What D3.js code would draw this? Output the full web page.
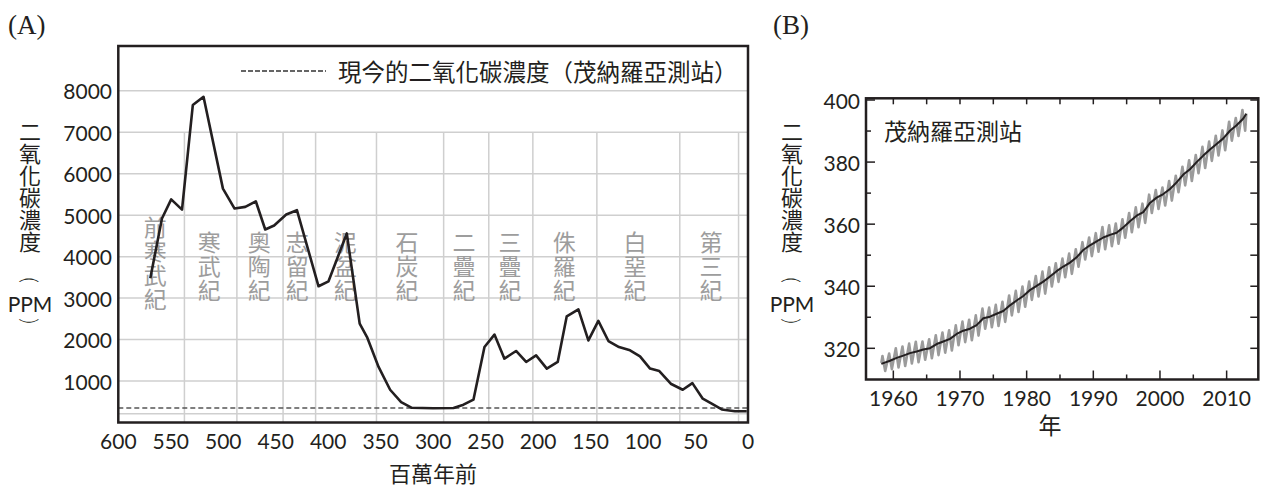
<!DOCTYPE html>
<html>
<head>
<meta charset="utf-8">
<script src="https://cdn.jsdelivr.net/npm/d3@7.9.0/dist/d3.min.js"></script>
<style>
  body { margin: 0; background: #fff; }
  text { font-family: Lato, "Noto Sans CJK TC", sans-serif; fill: #231f20; }
  .cjk { font-family: "Noto Sans CJK TC", sans-serif; }
  .vert { font-family: "Noto Sans CJK TC", sans-serif; writing-mode: vertical-rl; }
</style>
</head>
<body>
<svg id="chart" width="1265" height="488"></svg>
<script>
// ---- panel A data: CO2 over the last 600 million years ----
const agesA = [569.5, 558.4, 549.6, 539.3, 529, 518.8, 500.3, 489.2, 479, 469, 460, 451.5, 440, 429.8,
  409.2, 399.7, 382.3, 370, 363, 352, 341, 330.5, 320.3, 300, 280.6, 271.1, 261.6, 251.1, 241.6,
  232.1, 221, 211.4, 201.9, 191.7, 181.3, 172.7, 161.6, 152.1, 142.6, 133, 122.9, 112.4, 102.9,
  93.3, 84.5, 73.6, 62.2, 53, 43.1, 34.6, 25, 12.4, 1.2];
const co2A = [3480, 4920, 5380, 5135, 7655, 7855, 5640, 5160, 5200, 5335, 4655, 4750, 5015, 5120,
  3285, 3405, 4560, 2385, 2060, 1340, 790, 490, 355, 345, 350, 430, 550, 1820, 2120,
  1540, 1725, 1460, 1620, 1300, 1460, 2560, 2730, 1980, 2450, 1965, 1820, 1740, 1595,
  1300, 1240, 935, 790, 950, 575, 455, 315, 270, 270];
const todayCO2 = 350;
const extraGrid = 210;

const periodBounds = [537, 487, 443, 412, 354, 290, 247, 205, 144, 65, 9];
const periodNames = ['前寒武紀', '寒武紀', '奧陶紀', '志留紀', '泥盆紀', '石炭紀', '二疊紀', '三疊紀', '侏羅紀', '白堊紀', '第三紀'];
const periodMid = [564.8, 513.3, 465.7, 429.5, 383.8, 324.8, 270.5, 226.7, 175.2, 107.6, 35.2];

const xTicksA = [600, 550, 500, 450, 400, 350, 300, 250, 200, 150, 100, 50, 0];
const yTicksA = [1000, 2000, 3000, 4000, 5000, 6000, 7000, 8000];

// ---- panel B data: Mauna Loa record ----
const yearsB = d3.range(1958, 2013);
const meanB = [315.3, 315.98, 316.91, 317.64, 318.45, 318.99, 319.62, 320.04, 321.37, 322.18,
  323.05, 324.62, 325.68, 326.32, 327.46, 329.68, 330.19, 331.13, 332.03, 333.84,
  335.41, 336.84, 338.76, 340.12, 341.48, 343.15, 344.85, 346.35, 347.61, 349.31,
  351.69, 353.20, 354.45, 355.70, 356.54, 357.21, 358.96, 360.97, 362.74, 363.88,
  366.84, 368.54, 369.71, 371.32, 373.45, 375.98, 377.70, 379.98, 382.09, 384.02,
  385.83, 387.64, 390.10, 391.85, 394.06];
const peakB = [317.5, 318.3, 320.0, 320.6, 321.5, 322.1, 322.2, 322.9, 324.2, 325.1,
  325.8, 327.4, 328.6, 329.2, 330.6, 332.8, 333.1, 334.0, 335.0, 337.0,
  338.5, 339.9, 341.5, 343.3, 344.7, 346.1, 347.4, 348.9, 350.5, 351.9,
  354.2, 355.7, 357.1, 359.1, 359.6, 360.2, 361.6, 363.6, 365.4, 366.6,
  369.5, 371.0, 371.8, 373.9, 375.6, 378.5, 380.6, 382.3, 384.9, 386.6,
  388.5, 390.2, 393.0, 394.2, 396.8];
const troughB = [312.7, 313.3, 313.8, 314.3, 315.1, 315.5, 316.3, 316.8, 317.8, 318.6,
  319.3, 321.0, 322.0, 322.6, 324.1, 326.3, 326.8, 327.2, 328.5, 330.6,
  331.7, 333.4, 335.6, 336.7, 337.6, 339.9, 341.4, 342.9, 344.0, 346.3,
  348.6, 349.7, 351.1, 351.9, 352.9, 353.7, 355.6, 357.4, 359.0, 360.4,
  363.6, 364.9, 366.0, 367.6, 370.3, 372.5, 373.9, 376.4, 378.1, 380.4,
  382.1, 383.8, 386.9, 388.4, 390.1];
const startB = { t: 1958.2, v: 315.3 };
const endB = { t: 2012.95, v: 395.6 };

const xTicksB = [1960, 1970, 1980, 1990, 2000, 2010];
const xMinorB = [1965, 1975, 1985, 1995, 2005];
const yTicksB = [320, 340, 360, 380, 400];
const yMinorB = [330, 350, 370, 390];

const svg = d3.select('#chart');
svg.append('rect').attr('width', 1265).attr('height', 488).attr('fill', '#fff');

// vertical axis title: CJK column, then (PPM) with turned brackets
function yTitle(cx) {
  const g = svg.append('g');
  g.append('text').attr('class', 'vert').attr('x', cx).attr('y', 121)
    .attr('font-size', 22).text('二氧化碳濃度');
  g.append('text').attr('transform', `translate(${cx},280) rotate(90)`)
    .attr('text-anchor', 'middle').attr('dominant-baseline', 'central')
    .attr('font-size', 22).attr('font-weight', 300).text('(');
  g.append('text').attr('x', cx).attr('y', 303).attr('text-anchor', 'middle')
    .attr('dominant-baseline', 'central').attr('font-size', 21).text('PPM');
  g.append('text').attr('transform', `translate(${cx},321) rotate(90)`)
    .attr('text-anchor', 'middle').attr('dominant-baseline', 'central')
    .attr('font-size', 22).attr('font-weight', 300).text(')');
}

// ================= panel A =================
const xA = d3.scaleLinear().domain([600, 0]).range([118.3, 748]);
const yA = d3.scaleLinear().domain([0, 9080]).range([422.5, 46]);

svg.append('text').attr('x', 8).attr('y', 34)
  .style('font-family', '"Liberation Serif", serif').attr('font-size', 27).text('(A)');

const gridA = svg.append('g').attr('stroke', '#cfcfcf').attr('stroke-width', 1.5);
gridA.selectAll('.h').data(yTicksA.concat([extraGrid])).join('line')
  .attr('x1', xA(600)).attr('x2', xA(0)).attr('y1', d => yA(d)).attr('y2', d => yA(d));
gridA.selectAll('.v').data(periodBounds).join('line')
  .attr('x1', d => xA(d)).attr('x2', d => xA(d)).attr('y1', yA(7000)).attr('y2', yA(0));

// geological period names, written top to bottom
svg.selectAll('.period').data(periodNames).join('text')
  .attr('class', 'vert').attr('x', (d, i) => xA(periodMid[i]))
  .attr('y', d => d.length === 4 ? 216 : 230.5)
  .attr('font-size', 23).attr('letter-spacing', 1)
  .style('fill', '#9d9d9d').text(d => d);

svg.append('line').attr('x1', xA(600)).attr('x2', xA(0))
  .attr('y1', yA(todayCO2)).attr('y2', yA(todayCO2))
  .attr('stroke', '#555').attr('stroke-width', 1.5).attr('stroke-dasharray', '5,3');

const lineA = d3.line().x((d, i) => xA(agesA[i])).y(d => yA(d));
svg.append('path').attr('d', lineA(co2A)).attr('fill', 'none')
  .attr('stroke', '#231f20').attr('stroke-width', 2.6).attr('stroke-linejoin', 'round');

svg.append('rect').attr('x', xA(600)).attr('y', yA(9080))
  .attr('width', xA(0) - xA(600)).attr('height', yA(0) - yA(9080))
  .attr('fill', 'none').attr('stroke', '#231f20').attr('stroke-width', 2.5);

svg.selectAll('.xa').data(xTicksA).join('text')
  .attr('x', d => xA(d)).attr('y', 440).attr('text-anchor', 'middle')
  .attr('dominant-baseline', 'central').attr('font-size', 21).text(d => d);
svg.selectAll('.ya').data(yTicksA).join('text')
  .attr('x', 112).attr('y', d => yA(d)).attr('text-anchor', 'end')
  .attr('dominant-baseline', 'central').attr('font-size', 21).text(d => d);

svg.append('text').attr('class', 'cjk').attr('x', 433).attr('y', 472)
  .attr('text-anchor', 'middle').attr('dominant-baseline', 'central')
  .attr('font-size', 22).text('百萬年前');

yTitle(30);

// legend
svg.append('line').attr('x1', 241).attr('x2', 326).attr('y1', 71).attr('y2', 71)
  .attr('stroke', '#333').attr('stroke-width', 1.3).attr('stroke-dasharray', '5,2');
svg.append('text').attr('class', 'cjk').attr('x', 338).attr('y', 71)
  .attr('dominant-baseline', 'central').attr('font-size', 23.5)
  .text('現今的二氧化碳濃度（茂納羅亞測站）');

// ================= panel B =================
const xB = d3.scaleLinear().domain([1955.9, 2014.75]).range([866, 1258.3]);
const yB = d3.scaleLinear().domain([309.95, 400.55]).range([379.5, 98.3]);

svg.append('text').attr('x', 773).attr('y', 34)
  .style('font-family', '"Liberation Serif", serif').attr('font-size', 27).text('(B)');

// seasonal cycle (grey): May peak and autumn trough of each year
const seasonal = [startB];
yearsB.forEach((yr, i) => {
  seasonal.push({ t: yr + 0.37, v: peakB[i] });
  seasonal.push({ t: yr + 0.78, v: troughB[i] });
});
seasonal.push(endB);
const lineB = d3.line().x(d => xB(d.t)).y(d => yB(d.v));
svg.append('path').attr('d', lineB(seasonal)).attr('fill', 'none')
  .attr('stroke', '#9b9b9b').attr('stroke-width', 2.6).attr('stroke-linejoin', 'round');

// annual mean trend (black)
const trend = [{ t: startB.t, v: 315.0 }]
  .concat(yearsB.slice(1).map((yr, i) => ({ t: yr + 0.5, v: meanB[i + 1] })))
  .concat([endB]);
svg.append('path').attr('d', lineB(trend)).attr('fill', 'none')
  .attr('stroke', '#231f20').attr('stroke-width', 2).attr('stroke-linejoin', 'round');

// frame
svg.append('rect').attr('x', xB(1955.9)).attr('y', yB(400.55))
  .attr('width', xB(2014.75) - xB(1955.9)).attr('height', yB(309.95) - yB(400.55))
  .attr('fill', 'none').attr('stroke', '#231f20').attr('stroke-width', 2.5);

const tickB = svg.append('g').attr('stroke', '#231f20').attr('stroke-width', 1.5);
const bot = yB(309.95), topY = yB(400.55), lft = xB(1955.9), rgt = xB(2014.75);
tickB.selectAll('.bx').data(xTicksB).join('line')
  .attr('x1', d => xB(d)).attr('x2', d => xB(d)).attr('y1', bot).attr('y2', bot - 9);
tickB.selectAll('.bxm').data(xMinorB).join('line')
  .attr('x1', d => xB(d)).attr('x2', d => xB(d)).attr('y1', bot).attr('y2', bot - 5);
tickB.selectAll('.tx').data(xTicksB.concat(xMinorB)).join('line')
  .attr('x1', d => xB(d)).attr('x2', d => xB(d)).attr('y1', topY).attr('y2', topY + 6);
tickB.selectAll('.ly').data(yTicksB).join('line')
  .attr('x1', lft).attr('x2', lft + 9).attr('y1', d => yB(d)).attr('y2', d => yB(d));
tickB.selectAll('.lym').data(yMinorB).join('line')
  .attr('x1', lft).attr('x2', lft + 5).attr('y1', d => yB(d)).attr('y2', d => yB(d));
tickB.selectAll('.ry').data(yTicksB.concat(yMinorB)).join('line')
  .attr('x1', rgt).attr('x2', rgt - 8).attr('y1', d => yB(d)).attr('y2', d => yB(d));

svg.selectAll('.xb').data(xTicksB).join('text')
  .attr('x', d => xB(d)).attr('y', 397).attr('text-anchor', 'middle')
  .attr('dominant-baseline', 'central').attr('font-size', 21).text(d => d);
svg.selectAll('.yb').data(yTicksB).join('text')
  .attr('x', 860).attr('y', d => yB(d)).attr('text-anchor', 'end')
  .attr('dominant-baseline', 'central').attr('font-size', 21).text(d => d);

svg.append('text').attr('class', 'cjk').attr('x', 1050).attr('y', 424)
  .attr('text-anchor', 'middle').attr('dominant-baseline', 'central')
  .attr('font-size', 23).text('年');

svg.append('text').attr('class', 'cjk').attr('x', 884).attr('y', 130)
  .attr('dominant-baseline', 'central').attr('font-size', 23).text('茂納羅亞測站');

yTitle(792);
</script>
</body>
</html>
